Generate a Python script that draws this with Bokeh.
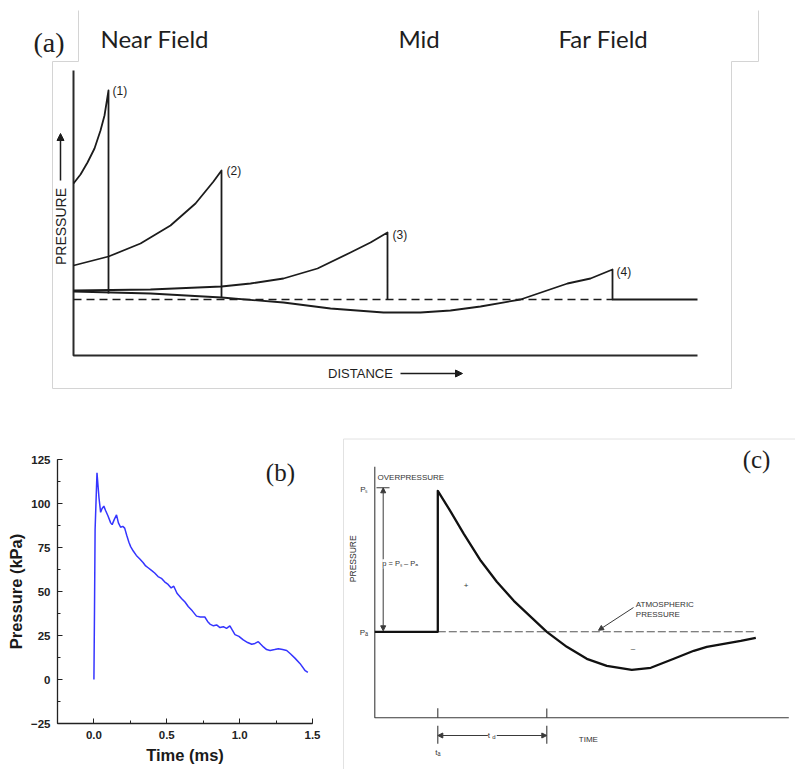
import math
from bokeh.plotting import figure
from bokeh.layouts import column, row
from bokeh.models import Range1d, Arrow, NormalHead, Label, SingleIntervalTicker, NumeralTickFormatter
from bokeh.core.properties import value
from bokeh.embed import file_html
from bokeh.resources import INLINE

# ---------------- Panel (a): schematic pressure vs distance (diagram units) ----------------
a_headers = ["Near Field", "Mid", "Far Field"]
a_header_dist = [27, 325, 485]
a_header_pres = [317, 317, 317]

wave1_dist = [0, 7, 14, 21, 27, 31, 35, 35]
wave1_pres = [172, 181, 193, 207, 225, 240, 265, 62]
wave2_dist = [0, 35, 67, 97, 122, 140, 148, 148]
wave2_pres = [90, 99, 112, 130, 152, 174, 185, 58]
wave3_dist = [0, 77, 148, 177, 210, 244, 277, 297, 314, 314]
wave3_pres = [65, 66, 69, 72, 77, 87, 103, 113, 123, 56]
wave4_dist = [0, 77, 148, 210, 257, 310, 347, 377, 407, 447, 494, 517, 539, 539, 624]
wave4_pres = [64, 62, 58, 53, 47, 43, 43, 45, 49, 56, 72, 77, 86, 56, 56]
ambient_dist = [0, 539]
ambient_pres = [56, 56]
wave_labels = ["(1)", "(2)", "(3)", "(4)"]
wave_label_dist = [39, 153, 319, 543]
wave_label_pres = [265, 185, 121, 84]

# ---------------- Panel (b): measured blast pressure ----------------
time_ms = [0.0, 0.004, 0.008, 0.021, 0.035, 0.046, 0.055, 0.068, 0.080, 0.096, 0.115, 0.125,
           0.140, 0.155, 0.168, 0.183, 0.198, 0.211, 0.225, 0.240, 0.252, 0.270, 0.291, 0.315,
           0.337, 0.355, 0.372, 0.395, 0.417, 0.440, 0.463, 0.485, 0.509, 0.530, 0.548, 0.570,
           0.601, 0.625, 0.647, 0.675, 0.704, 0.730, 0.761, 0.780, 0.796, 0.820, 0.842, 0.865,
           0.888, 0.910, 0.933, 0.950, 0.968, 0.995, 1.025, 1.055, 1.083, 1.105, 1.128, 1.145,
           1.163, 1.185, 1.209, 1.240, 1.266, 1.295, 1.323, 1.350, 1.381, 1.415, 1.450, 1.468]
pressure_kpa = [0, 40, 85, 117.5, 103, 95, 97, 98.5, 96, 93, 89, 88,
                91, 93.5, 89, 86.5, 87, 86, 82, 78, 75.5, 73, 70.5, 68.5,
                66.5, 64.5, 63.5, 62, 60.5, 58.5, 57.5, 55.5, 54, 52, 53, 49,
                46, 44, 41.5, 39, 36, 35.5, 35.5, 33, 31.5, 30.5, 31, 29.5,
                30, 29, 30.5, 28, 25.5, 24.5, 22.5, 21, 20, 20.5, 21.5, 20,
                18.5, 17, 16.5, 17, 17.5, 17, 16.5, 14.5, 12, 9, 5, 4]

# ---------------- Panel (c): idealised pressure-time history (diagram units) ----------------
c_curve_t = [0, 63, 63, 76, 89, 106, 122, 139, 156, 172, 192, 212, 232, 257, 276, 299, 319, 332, 349, 366, 381]
c_curve_p = [86, 86, 227, 206, 184, 157, 136, 117, 101, 86, 71, 59, 52, 48, 50, 59, 67, 71, 74, 77, 80]
c_ambient_t = [63, 382]
c_ambient_p = [86, 86]
c_texts = ["OVERPRESSURE", "ATMOSPHERIC", "PRESSURE", "TIME", "+", "\u2013"]
c_text_t = [2.7, 261, 261, 204, 89, 256]
c_text_p = [240, 113, 103, -22, 132, 69]


def txt(p, x, y, t, size, font="Liberation Sans", align="left", baseline="middle",
        angle=0.0, color="#1e1e1e", style="normal"):
    p.text(x=x, y=y, text=t, text_font=value(font), text_font_size=size,
           text_align=align, text_baseline=baseline, angle=angle, text_color=color,
           text_font_style=style)


def no_align(f):
    try:
        f.frame_align = False
    except Exception:
        pass


def bare(width, height, xr, yr):
    f = figure(width=width, height=height, x_range=Range1d(*xr), y_range=Range1d(*yr),
               x_axis_location=None, y_axis_location=None, toolbar_location=None,
               output_backend="svg", min_border=0)
    f.outline_line_color = None
    f.grid.visible = False
    f.background_fill_color = "white"
    f.border_fill_color = "white"
    no_align(f)
    return f


# ======================= (a) =======================
fa = bare(795, 420, (-73, 722), (-65, 355))
frame_c = "#d4d4d4"
fa.line([-21, -21, 658, 658], [294, -33, -33, 294], line_color=frame_c, line_width=1)
fa.line([-21, 5, 5], [294, 294, 345], line_color=frame_c, line_width=1)
fa.line([685, 685, 658], [345, 294, 294], line_color=frame_c, line_width=1)

ink = "#1c1c1c"
fa.line([0, 0, 624], [285, 0, 0], line_color="#2a2a2a", line_width=2)
fa.line(ambient_dist, ambient_pres, line_color=ink, line_width=1.6, line_dash="8 5")
for xs, ys in [(wave1_dist, wave1_pres), (wave2_dist, wave2_pres),
               (wave3_dist, wave3_pres), (wave4_dist, wave4_pres)]:
    fa.line(xs, ys, line_color=ink, line_width=1.8, line_join="round")
txt(fa, wave_label_dist, wave_label_pres, wave_labels, "12px")

txt(fa, a_header_dist, a_header_pres, a_headers, "24px", font="Lato")
txt(fa, [-40], [313], ["(a)"], "28px", font="Liberation Serif")

txt(fa, [-13], [129], ["PRESSURE"], "14px", align="center", angle=math.pi / 2)
fa.add_layout(Arrow(end=NormalHead(size=7, fill_color=ink, line_color=ink),
                    x_start=-13, y_start=175, x_end=-13, y_end=222,
                    line_color=ink, line_width=1.5))
txt(fa, [287], [-18], ["DISTANCE"], "13px", align="center")
fa.add_layout(Arrow(end=NormalHead(size=7, fill_color=ink, line_color=ink),
                    x_start=327, y_start=-18, x_end=389, y_end=-18,
                    line_color=ink, line_width=1.5))

# ======================= (b) =======================
fb = figure(width=340, height=349, x_range=Range1d(-0.25, 1.5), y_range=Range1d(-25, 125),
            toolbar_location=None, output_backend="svg",
            min_border_left=57, min_border_right=28, min_border_top=39, min_border_bottom=46)
no_align(fb)
fb.outline_line_color = None
fb.grid.visible = False
fb.xaxis.ticker = SingleIntervalTicker(interval=0.5, num_minor_ticks=2)
fb.yaxis.ticker = SingleIntervalTicker(interval=25, num_minor_ticks=2)
fb.xaxis.formatter = NumeralTickFormatter(format="0.0")
for ax in fb.axis:
    ax.axis_line_color = "#222222"
    ax.axis_line_width = 1.3
    ax.major_tick_line_color = "#222222"
    ax.minor_tick_line_color = "#222222"
    ax.major_tick_in = 5
    ax.major_tick_out = 0
    ax.minor_tick_in = 3
    ax.minor_tick_out = 0
    ax.major_label_text_font = "Liberation Sans"
    ax.major_label_text_font_style = "bold"
    ax.major_label_text_font_size = "11.5px"
    ax.major_label_text_color = "#222222"
    ax.axis_label_text_font = "Liberation Sans"
    ax.axis_label_text_font_style = "bold"
    ax.axis_label_text_font_size = "16.5px"
    ax.axis_label_text_color = "#1a1a1a"
    ax.major_label_standoff = 7
fb.xaxis.axis_label = "Time (ms)"
fb.yaxis.axis_label = "Pressure (kPa)"
fb.xaxis.axis_label_standoff = 4
fb.yaxis.axis_label_standoff = 3
fb.line(time_ms, pressure_kpa, line_color="#3535ff", line_width=1.5)
txt(fb, [1.28], [117.5], ["(b)"], "25px", font="Liberation Serif", align="center")

# ======================= (c) =======================
fc = bare(455, 349, (-34.3, 420.7), (-51.7, 297.3))
frame_c2 = "#e2e2e2"
fc.line([-31.3, -31.3, 421], [-52, 278.8, 278.8], line_color=frame_c2, line_width=1)

axc = "#3a3a3a"
fc.line([0, 0, 414], [251, 0, 0], line_color=axc, line_width=1.1)
fc.line(c_ambient_t, c_ambient_p, line_color="#555555", line_width=1.1, line_dash="8 3")
fc.line(c_curve_t, c_curve_p, line_color="#111111", line_width=2.3, line_join="round")

# axis marks and dimension lines
fc.line([63, 63], [0, 9.6], line_color=axc, line_width=1.1)
fc.line([172, 172], [0, 9.4], line_color=axc, line_width=1.1)
fc.line([63, 63], [-8, -26], line_color=axc, line_width=1.1)
fc.line([172, 172], [-8, -26], line_color=axc, line_width=1.1)
fc.add_layout(Arrow(start=NormalHead(size=5, fill_color=axc, line_color=axc),
                    end=NormalHead(size=5, fill_color=axc, line_color=axc),
                    x_start=63, y_start=-17.7, x_end=172, y_end=-17.7,
                    line_color=axc, line_width=1))
fc.add_layout(Label(x=117.5, y=-17.7, text="t   ", text_font="Liberation Sans", text_font_size="8px",
                    text_align="center", text_baseline="middle", background_fill_color="white",
                    text_color="#333333"))
fc.add_layout(Label(x=117.5, y=-19.5, text="d", text_font="Liberation Sans", text_font_size="6px",
                    text_align="left", text_baseline="middle", text_color="#333333"))
txt(fc, [63], [-35], ["t\u2090"], "8px", align="center", color="#333333")

# overpressure bracket
fc.line([1.7, 14.7], [230, 230], line_color=axc, line_width=1.1)
fc.add_layout(Arrow(start=NormalHead(size=5, fill_color=axc, line_color=axc),
                    end=NormalHead(size=5, fill_color=axc, line_color=axc),
                    x_start=8.4, y_start=230, x_end=8.4, y_end=87,
                    line_color=axc, line_width=1))
fc.add_layout(Label(x=7.4, y=154, text="p = P\u209b \u2013 P\u2090", text_font="Liberation Sans",
                    text_font_size="7.5px", text_align="left", text_baseline="middle",
                    background_fill_color="white", text_color="#333333"))
txt(fc, [-11], [228], ["P\u209b"], "8px", align="center", color="#333333")
txt(fc, [-11], [85], ["P\u2090"], "8px", align="center", color="#333333")
txt(fc, [-22.3], [159], ["PRESSURE"], "8.5px", align="center", angle=math.pi / 2, color="#333333")

txt(fc, c_text_t, c_text_p, c_texts, "8px", color="#333333")
fc.add_layout(Arrow(end=NormalHead(size=5, fill_color=axc, line_color=axc),
                    x_start=258.7, y_start=110.3, x_end=223.7, y_end=87.5,
                    line_color=axc, line_width=1))
txt(fc, [381.7], [258.3], ["(c)"], "25px", font="Liberation Serif", align="center")

layout = column(fa, row(fb, fc))
open("out.html", "w").write(file_html(layout, INLINE))
